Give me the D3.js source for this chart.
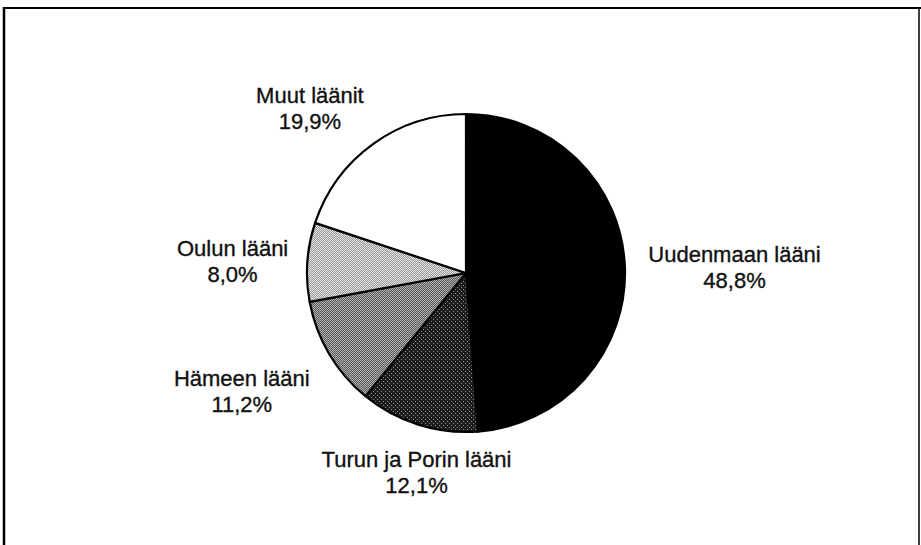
<!DOCTYPE html>
<html>
<head>
<meta charset="utf-8">
<script src="https://cdn.jsdelivr.net/npm/d3@7"></script>
<style>
  body { margin: 0; background: #fff; }
  svg { display: block; }
  .lbl { font-family: "Liberation Sans", Arial, Helvetica, sans-serif; font-size: 22px; fill: #111; stroke: #111; stroke-width: 0.35px; }
</style>
</head>
<body>
<div id="chart"></div>
<script>
// data, clockwise from 12 o'clock
var categories = ["Uudenmaan lääni", "Turun ja Porin lääni", "Hämeen lääni", "Oulun lääni", "Muut läänit"];
var values = [48.8, 12.1, 11.2, 8.0, 19.9];

// fills (pattern ids), label gap from the rim (px) and angle nudge (deg), same order
var fills = ["#000", "url(#dark)", "url(#mid)", "url(#light)", "#fff"];
var labelGap = [23, 2.5, 24.5, 18, 13];
var labelNudge = [1.35, -3.6, 2.5, -1.4, -7.9];

var svgWidth = 921;
var svgHeight = 545;

var cx = 466, cy = 273, radius = 159;

var svg = d3.select("#chart")
    .append("svg")
    .attr("width", svgWidth)
    .attr("height", svgHeight);

// halftone-ish patterns for the grey slices
var defs = svg.append("defs");

function pattern(id, size, bg, dots, dotColor) {
    var p = defs.append("pattern")
        .attr("id", id)
        .attr("patternUnits", "userSpaceOnUse")
        .attr("width", size)
        .attr("height", size);
    p.append("rect").attr("width", size).attr("height", size).attr("fill", bg);
    dots.forEach(function(d) {
        p.append("rect")
            .attr("x", d[0]).attr("y", d[1])
            .attr("width", 1).attr("height", 1)
            .attr("fill", dotColor);
    });
}

pattern("light", 2, "#e2e2e2", [[0, 0], [1, 1]], "#9a9a9a");
pattern("mid", 2, "#b0b0b0", [[0, 0], [1, 1]], "#5a5a5a");
pattern("dark", 4, "#1c1c1c", [[1, 0], [3, 2]], "#8c8c8c");

// frame
var frame = svg.append("g")
    .attr("stroke", "#000")
    .attr("fill", "none");
frame.append("line").attr("x1", 3).attr("x2", 921).attr("y1", 8).attr("y2", 8).attr("stroke-width", 2);
frame.append("line").attr("x1", 4).attr("x2", 4).attr("y1", 7).attr("y2", 545).attr("stroke-width", 2.5);
frame.append("line").attr("x1", 919).attr("x2", 919).attr("y1", 7).attr("y2", 545).attr("stroke-width", 1.5);

var pie = d3.pie().sort(null).value(d => d);
var arcs = pie(values);

var arc = d3.arc().innerRadius(0).outerRadius(radius);

var chartGroup = svg.append("g")
    .attr("transform", `translate(${cx}, ${cy})`);

chartGroup.selectAll("path")
    .data(arcs)
    .enter()
    .append("path")
    .attr("d", arc)
    .attr("fill", (d, i) => fills[i])
    .attr("stroke", "#000")
    .attr("stroke-width", 2.2)
    .attr("stroke-linejoin", "round");

// finnish number format: 48,8%
var fi = d3.formatLocale({ decimal: ",", thousands: " ", grouping: [3], currency: ["", " €"] });
var pct = fi.format(".1f");

var lineH = 26;
var boxH = 46;

var labels = chartGroup.selectAll("text.lbl")
    .data(arcs)
    .enter()
    .append("text")
    .attr("class", "lbl")
    .attr("text-anchor", "middle");

labels.append("tspan").attr("x", 0).attr("dy", 0).text((d, i) => categories[i]);
labels.append("tspan").attr("x", 0).attr("dy", lineH).text(d => pct(d.data) + "%");

// place each label box just outside the rim, near the slice's mid angle
labels.each(function(d, i) {
    var node = d3.select(this);
    var w = d3.max(node.selectAll("tspan").nodes(), n => n.getComputedTextLength());
    var a = (d.startAngle + d.endAngle) / 2 + labelNudge[i] * Math.PI / 180;
    var ux = Math.sin(a), uy = -Math.cos(a);
    var reach = Math.abs(ux) * w / 2 + Math.abs(uy) * boxH / 2;
    var dist = radius + labelGap[i] + reach;
    node.attr("transform", `translate(${ux * dist}, ${uy * dist - 7})`);
});
</script>
</body>
</html>
